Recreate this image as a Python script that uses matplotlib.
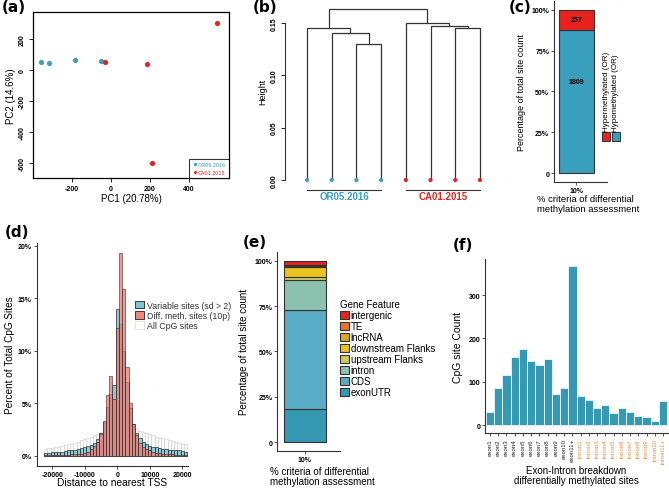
import matplotlib
matplotlib.use("Agg")
import matplotlib.pyplot as plt
from matplotlib.patches import Patch, Rectangle
import numpy as np

plt.rcParams["font.family"] = ["Liberation Sans", "DejaVu Sans"]

W, H = 669, 489
BLUE = "#3A9EBD"
RED = "#E8231F"
AXC = "#333333"

# ---- data ----
# (a) PCA
pc1_or = [-360, -320, -185, -50]
pc2_or = [50, 45, 65, 56]
pc1_ca = [-31, 186, 209, 544]
pc2_ca = [52, 41, -598, 303]

# (b) dendrogram: leaves 0..7, merges (node a, node b, height) -> new node 8, 9, ...
leaf_groups = ["OR05.2016"] * 4 + ["CA01.2015"] * 4
merges = [(2, 3, 0.130), (1, 8, 0.1407), (0, 9, 0.1455),
          (6, 7, 0.1452), (5, 11, 0.1468), (4, 12, 0.1497),
          (10, 13, 0.163)]

# (c) hyper / hypo counts
c_labels = ["Hypomethylated (OR)", "Hypermethylated (OR)"]
c_counts = [1809, 257]

# (d) distance to TSS histogram (% of sites per 1 kb bin)
tss_bins = np.arange(-22000, 21001, 1000)
all_cpg = [0.65, 0.7, 0.75, 0.8, 0.85, 0.9, 1.0, 1.1, 1.15, 1.25, 1.35, 1.45, 1.55, 1.65,
           1.8, 1.95, 2.1, 2.3, 2.5, 2.8, 3.1, 3.4, 3.6, 3.6, 3.4, 3.1, 2.9, 2.7, 2.55, 2.4,
           2.3, 2.2, 2.1, 1.95, 1.8, 1.7, 1.65, 1.55, 1.5, 1.4, 1.3, 1.25, 1.15, 1.1]
variable = [0.3, 0.3, 0.35, 0.35, 0.4, 0.4, 0.45, 0.5, 0.5, 0.55, 0.6, 0.7, 0.8, 0.9,
            1.0, 1.2, 1.6, 2.2, 3.2, 4.6, 5.9, 6.7, 14.0, 12.5, 10.0, 7.0, 4.5, 3.0, 2.2, 1.7,
            1.3, 1.1, 0.95, 0.85, 0.8, 0.7, 0.65, 0.6, 0.55, 0.55, 0.5, 0.5, 0.45, 0.4]
diff = [0.05, 0.05, 0.05, 0.05, 0.1, 0.1, 0.1, 0.1, 0.15, 0.15, 0.2, 0.2, 0.3, 0.4,
        0.6, 0.9, 1.3, 2.1, 3.3, 5.8, 7.6, 5.4, 12.2, 19.3, 15.9, 8.4, 5.0, 3.0, 2.0, 1.2,
        0.8, 0.6, 0.5, 0.4, 0.3, 0.3, 0.2, 0.2, 0.15, 0.15, 0.1, 0.1, 0.1, 0.1]

# (e) gene feature shares (bottom to top)
features = ["exonUTR", "CDS", "intron", "upstream Flanks", "downstream Flanks",
            "lncRNA", "TE", "intergenic"]
feature_pct = [18.4, 54.6, 16.6, 1.5, 5.2, 0.8, 0.8, 2.1]
feature_colors = ["#3698B2", "#5AABC6", "#8CC1AF", "#CDC95A", "#EAC31E",
                  "#DDA520", "#E8732B", "#E8221C"]

# (f) exon / intron breakdown
regions = ["exon1", "exon2", "exon3", "exon4", "exon5", "exon6", "exon7", "exon8",
           "exon9", "exon10", "exon11+", "intron1", "intron2", "intron3", "intron4",
           "intron5", "intron6", "intron7", "intron8", "intron9", "intron10", "intron11+"]
region_counts = [30, 86, 115, 157, 175, 148, 138, 152, 72, 85, 367,
                 68, 58, 41, 46, 28, 40, 30, 22, 18, 11, 56]

fig = plt.figure(figsize=(W / 100, H / 100), dpi=100)


def add_ax(x0, y0, x1, y1):
    return fig.add_axes([x0 / W, 1 - y1 / H, (x1 - x0) / W, (y1 - y0) / H])


def gg_axes(ax):
    for s in ["top", "right"]:
        ax.spines[s].set_visible(False)
    for s in ["left", "bottom"]:
        ax.spines[s].set_color(AXC)
        ax.spines[s].set_linewidth(0.8)
    ax.tick_params(length=2, width=0.6, color=AXC, pad=1.5)


def panel_label(x, y, txt):
    fig.text(x / W, 1 - y / H, txt, fontsize=11, fontweight="bold",
             family="DejaVu Sans", va="top", ha="left")


tick_kw = dict(fontsize=5, fontweight="bold")

# ---- (a) PCA ----
ax = add_ax(33, 13, 229, 179)
ax.scatter(pc1_or, pc2_or, s=14, color=BLUE, label="OR05.2016", zorder=3, linewidths=0)
ax.scatter(pc1_ca, pc2_ca, s=14, color=RED, label="CA01.2015", zorder=3, linewidths=0)
ax.set_xlim(-400, 605)
ax.set_ylim(-697, 374)
ax.set_xticks([-200, 0, 200, 400], ["-200", "0", "200", "400"], **tick_kw)
ax.set_yticks([-600, -400, -200, 0, 200], ["-600", "-400", "-200", "0", "200"],
              rotation=90, va="center", **tick_kw)
ax.tick_params(length=3, width=0.6, pad=2)
for s in ax.spines.values():
    s.set_linewidth(0.9)
ax.set_xlabel("PC1 (20.78%)", fontsize=7)
ax.xaxis.set_label_coords(0.5, -0.09)
ax.set_ylabel("PC2 (14.6%)", fontsize=7, labelpad=2)
leg = ax.legend(loc="lower right", fontsize=4, fancybox=False, borderaxespad=0,
                handletextpad=0.1, markerscale=0.6, borderpad=0.6, labelspacing=0.5,
                handlelength=0.8, labelcolor=[BLUE, RED])
leg.get_frame().set_edgecolor("black")
leg.get_frame().set_linewidth(0.8)
panel_label(2, 0, "(a)")

# ---- (b) dendrogram ----
ax = add_ax(285, 3, 495, 181)
pos = {i: i + 1 for i in range(8)}
hgt = {i: 0.0 for i in range(8)}
for k, (a, b, h) in enumerate(merges):
    ax.plot([pos[a], pos[a], pos[b], pos[b]], [hgt[a], h, h, hgt[b]],
            color=AXC, lw=0.9, solid_joinstyle="miter")
    pos[8 + k] = (pos[a] + pos[b]) / 2
    hgt[8 + k] = h
leaf_cols = [BLUE if g == "OR05.2016" else RED for g in leaf_groups]
ax.scatter([pos[i] for i in range(8)], [0] * 8, s=9, color=leaf_cols, zorder=3,
           clip_on=False, linewidths=0)
ax.set_xlim(0.11, 8.61)
ax.set_ylim(0, 0.17)
for s in ["top", "right", "bottom"]:
    ax.spines[s].set_visible(False)
ax.spines["left"].set_bounds(0, 0.15)
ax.spines["left"].set_color(AXC)
ax.spines["left"].set_linewidth(0.8)
ax.set_xticks([])
ax.set_yticks([0, 0.05, 0.10, 0.15], ["0.00", "0.05", "0.10", "0.15"],
              rotation=90, va="center", **tick_kw)
ax.tick_params(axis="y", length=3, width=0.6, pad=2)
ax.set_ylabel("Height", fontsize=6.5, labelpad=3)
for g, col in [("OR05.2016", BLUE), ("CA01.2015", RED)]:
    idx = [i + 1 for i, lg in enumerate(leaf_groups) if lg == g]
    ax.plot([min(idx), max(idx)], [-0.0096, -0.0096], color=AXC, lw=0.8, clip_on=False)
    ax.text(np.mean(idx), -0.0155, g, color=col, fontsize=7, fontweight="bold",
            ha="center", va="center", clip_on=False)
panel_label(253, 0, "(b)")

# ---- (c) hyper/hypo stacked bar ----
ax = add_ax(554, 2, 607, 182.7)
c_pct = np.array(c_counts) / sum(c_counts) * 100
c_cols = [BLUE, RED]
bottom = 0
for lab, p, n, col in zip(c_labels, c_pct, c_counts, c_cols):
    ax.bar(1, p, bottom=bottom, width=0.8, color=col, edgecolor=AXC, lw=0.8)
    ty = bottom + p * (0.64 if p > 50 else 0.5)
    ax.text(1, ty, str(n), fontsize=5, fontweight="bold", ha="center", va="center")
    bottom += p
ax.set_xlim(0.489, 1.693)
ax.set_ylim(-5.3, 105.3)
gg_axes(ax)
ax.set_xticks([1], ["10%"], **tick_kw)
ax.set_yticks([0, 25, 50, 75, 100], ["0", "25%", "50%", "75%", "100%"], **tick_kw)
ax.set_ylabel("Percentage of total site count", fontsize=6.5, labelpad=4)
ax.set_xlabel("% criteria of differential\nmethylation assessment", fontsize=6.8,
              ha="left", linespacing=1.1)
ax.xaxis.set_label_coords(-0.32, -0.067)
# rotated legend
for i, (lab, col) in enumerate([(c_labels[1], RED), (c_labels[0], BLUE)]):
    x0 = 602.3 + i * 9.6
    fig.patches.append(Rectangle((x0 / W, 1 - 141.7 / H), 7.7 / W, 8.4 / H,
                                 transform=fig.transFigure, facecolor=col,
                                 edgecolor=AXC, lw=0.7))
    fig.text((x0 + 3.9) / W, 1 - 132 / H, lab, rotation=90, fontsize=5.8,
             ha="center", va="bottom")
panel_label(509, 0, "(c)")

# ---- (d) TSS distance histogram ----
ax = add_ax(36.7, 243.5, 187.5, 466.7)
ax.bar(tss_bins, all_cpg, width=1000, color="white", edgecolor="#D0D0D0", lw=0.5,
       label="All CpG sites")
ax.bar(tss_bins, variable, width=1000, color="#7CC4D0", edgecolor="#222222", lw=0.5,
       alpha=0.9, label="Variable sites (sd > 2)")
ax.bar(tss_bins, diff, width=1000, color="#F2766E", edgecolor="#222222", lw=0.5,
       alpha=0.75, label="Diff. meth. sites (10p)")
ax.set_xlim(-24800, 21600)
ax.set_ylim(-0.95, 20.3)
gg_axes(ax)
ax.set_xticks([-20000, -10000, 0, 10000, 20000],
              ["-20000", "-10000", "0", "10000", "20000"], **tick_kw)
ax.set_yticks([0, 5, 10, 15, 20], ["0%", "5%", "10%", "15%", "20%"], **tick_kw)
ax.set_ylabel("Percent of Total CpG Sites", fontsize=7.2, labelpad=2)
ax.set_xlabel("Distance to nearest TSS", fontsize=7.3)
ax.xaxis.set_label_coords(0.5, -0.05)
handles = [Patch(facecolor="#7CC4D0", edgecolor="#222222", lw=0.6),
           Patch(facecolor="#F2867E", edgecolor="#222222", lw=0.6),
           Patch(facecolor="white", edgecolor="#E0E0E0", lw=0.6)]
ax.legend(handles, ["Variable sites (sd > 2)", "Diff. meth. sites (10p)", "All CpG sites"],
          loc="upper left", bbox_to_anchor=(0.655, 0.74), frameon=False, fontsize=6.3,
          handlelength=1.0, handleheight=1.0, labelspacing=0.15, handletextpad=0.3,
          borderpad=0, borderaxespad=0, labelcolor="#333333")
panel_label(5, 225, "(d)")

# ---- (e) gene feature stacked bar ----
ax = add_ax(277.3, 252.5, 340, 452.3)
bottom = 0
for lab, p, col in zip(features, feature_pct, feature_colors):
    ax.bar(1, p, bottom=bottom, width=0.8, color=col, edgecolor=AXC, lw=0.8, label=lab)
    bottom += p
ax.set_xlim(0.47, 1.67)
ax.set_ylim(-5.1, 105.1)
gg_axes(ax)
ax.set_xticks([1], ["10%"], **tick_kw)
ax.set_yticks([0, 25, 50, 75, 100], ["0", "25%", "50%", "75%", "100%"], **tick_kw)
ax.set_ylabel("Percentage of total site count", fontsize=7, labelpad=4)
ax.set_xlabel("% criteria of differential\nmethylation assessment", fontsize=7,
              ha="left", linespacing=1.1)
ax.xaxis.set_label_coords(-0.12, -0.072)
h, l = ax.get_legend_handles_labels()
ax.legend(h[::-1], l[::-1], title="Gene Feature", title_fontsize=7, fontsize=7,
          loc="upper left", bbox_to_anchor=(1.0, 0.76), frameon=False,
          handlelength=0.9, handleheight=1.0, labelspacing=0.1, handletextpad=0.2,
          borderpad=0, borderaxespad=0, alignment="left")
panel_label(243, 235, "(e)")

# ---- (f) exon/intron breakdown ----
ax = add_ax(485, 260, 668, 434.3)
xs = np.arange(1, len(regions) + 1)
ax.bar(xs, region_counts, width=1.0, color="#3599B3", edgecolor="white", lw=0.5)
ax.set_xlim(0.4, len(regions) + 0.6)
ax.set_ylim(-18.4, 383)
gg_axes(ax)
ax.set_xticks(xs, regions, rotation=90, fontsize=4.4)
for t, r in zip(ax.get_xticklabels(), regions):
    t.set_color("#222222" if r.startswith("exon") else "#EE8A3C")
ax.set_yticks([0, 100, 200, 300], ["0", "100", "200", "300"], **tick_kw)
ax.set_ylabel("CpG site Count", fontsize=7.5, labelpad=4)
ax.set_xlabel("Exon-Intron breakdown\ndifferentially methylated sites", fontsize=7,
              linespacing=1.1)
ax.xaxis.set_label_coords(0.5, -0.18)
panel_label(453, 238, "(f)")

fig.savefig("out.png", dpi=100)
